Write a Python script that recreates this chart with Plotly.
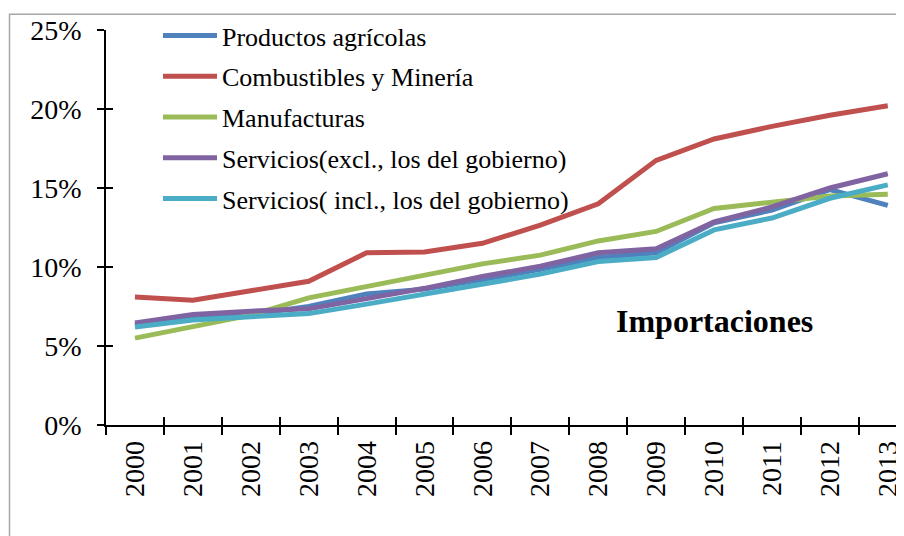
import plotly.graph_objects as go

years = [str(y) for y in range(2000, 2014)]
agricolas = [6.3, 6.8, 7.0, 7.5, 8.3, 8.6, 9.2, 9.85, 10.6, 10.9, 12.8, 13.6, 14.9, 13.9]
combustibles = [8.1, 7.9, 8.5, 9.1, 10.9, 10.95, 11.5, 12.65, 14.0, 16.75, 18.1, 18.9, 19.6, 20.2]
manufacturas = [5.5, 6.25, 6.95, 8.05, 8.75, 9.5, 10.2, 10.75, 11.65, 12.25, 13.7, 14.1, 14.5, 14.6]
serv_excl = [6.45, 7.0, 7.2, 7.35, 8.0, 8.65, 9.4, 10.05, 10.9, 11.15, 12.85, 13.8, 15.0, 15.9]
serv_incl = [6.2, 6.65, 6.85, 7.05, 7.65, 8.3, 8.9, 9.55, 10.35, 10.6, 12.35, 13.1, 14.35, 15.2]

names = ["Productos agrícolas", "Combustibles y Minería", "Manufacturas",
         "Servicios(excl., los del gobierno)", "Servicios( incl., los del gobierno)"]
colors = ["#4F81BD", "#C0504D", "#9BBB59", "#8064A2", "#4BACC6"]
series = [agricolas, combustibles, manufacturas, serv_excl, serv_incl]

FONT = "Liberation Serif, Times New Roman, serif"

fig = go.Figure()
for i, (n, c, s) in enumerate(zip(names, colors, series)):
    fig.add_trace(go.Scatter(
        x=years, y=[v / 100 for v in s], name=n, mode="lines",
        line=dict(color=c, width=5), legendgroup=f"g{i}"))

# helper invisible trace on overlay axes (for crossing tick marks)
fig.add_trace(go.Scatter(x=years, y=[v / 100 for v in serv_incl], xaxis="x2", yaxis="y2",
                         mode="lines", line=dict(width=0), showlegend=False,
                         hoverinfo="skip", opacity=0))

OFF = 8  # page body margin
W, H = 904 - OFF, 536 - OFF
L, T = 106 - OFF, 30 - OFF
B = H - (425 - OFF)
R = 0
pw, ph = W - L - R, H - T - B
xr = [-0.5, 13.28]
yr = [0, 0.25]


def px_x(sx):
    return (sx - OFF - L) / pw


def px_y(sy):
    return ((425 - OFF) - (sy - OFF)) / ph


fig.update_layout(
    width=W, height=H,
    margin=dict(l=L, r=R, t=T, b=B),
    paper_bgcolor="white", plot_bgcolor="white",
    font=dict(family=FONT, color="black", size=28),
    showlegend=True,
    legend=dict(x=px_x(158), y=px_y(12), xanchor="left", yanchor="top",
                font=dict(family=FONT, size=26, color="black"),
                bgcolor="rgba(0,0,0,0)", itemwidth=54,
                traceorder="grouped", tracegroupgap=4),
    xaxis=dict(type="category", range=xr, tickson="boundaries", ticks="outside",
               ticklen=8, tickwidth=1.5, tickcolor="black", showline=True,
               linecolor="black", linewidth=1.5, showgrid=False, zeroline=False,
               tickangle=-90, tickfont=dict(family=FONT, size=28, color="black"),
               ticklabelstandoff=3),
    yaxis=dict(range=yr, tickvals=[0, 0.05, 0.10, 0.15, 0.20, 0.25],
               ticktext=["0%", "5%", "10%", "15%", "20%", "25%"],
               ticks="outside", ticklen=7, tickwidth=1.5, tickcolor="black",
               showline=True, linecolor="black", linewidth=1.5, showgrid=False,
               zeroline=False, tickfont=dict(family=FONT, size=28, color="black"),
               ticklabelstandoff=10),
    xaxis2=dict(type="category", overlaying="x", range=xr, tickson="boundaries",
                ticks="inside", ticklen=8, tickwidth=1.5, tickcolor="black",
                showticklabels=False, showline=False, showgrid=False, zeroline=False,
                side="bottom"),
    yaxis2=dict(overlaying="y", range=yr, tickvals=[0, 0.05, 0.10, 0.15, 0.20, 0.25],
                ticks="inside", ticklen=7, tickwidth=1.5, tickcolor="black",
                showticklabels=False, showline=False, showgrid=False, zeroline=False,
                side="left"),
    annotations=[dict(text="<b>Importaciones</b>", x=px_x(714), y=px_y(321),
                      xref="paper", yref="paper", showarrow=False,
                      xanchor="center", yanchor="middle",
                      font=dict(family=FONT, size=32, color="black"))],
    shapes=[dict(type="rect", xref="paper", yref="paper",
                 x0=px_x(9.5), x1=px_x(915),
                 y0=px_y(560), y1=px_y(14.3),
                 line=dict(color="#A6A6A6", width=1.5), fillcolor="rgba(0,0,0,0)",
                 layer="below")],
)

fig.write_html("out.html")
